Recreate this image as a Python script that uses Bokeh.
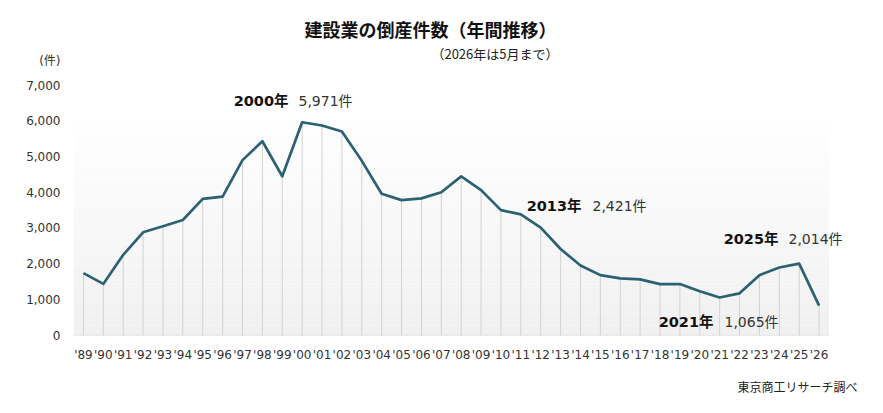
from bokeh.plotting import figure
from bokeh.models import Label, FixedTicker, NumeralTickFormatter, Range1d, ColumnDataSource, Title
from bokeh.embed import file_html
from bokeh.resources import INLINE

# ---- data ----
years = list(range(1989, 2027))
counts = [1745, 1445, 2260, 2890, 3060, 3235, 3825, 3890, 4910, 5440, 4460,
          5971, 5880, 5710, 4890, 3970, 3790, 3840, 4010, 4455, 4070, 3510,
          3390, 3020, 2421, 1960, 1690, 1600, 1570, 1440, 1440, 1240, 1065,
          1180, 1690, 1905, 2014, 835]
tick_labels = ["'" + str(y)[2:] for y in years]
y_ticks = [0, 1000, 2000, 3000, 4000, 5000, 6000, 7000]
unit_label = "(件)"

highlights = [
    ("2000年", "5,971件"),
    ("2013年", "2,421件"),
    ("2021年", "1,065件"),
    ("2025年", "2,014件"),
]

FONT = "Noto Sans CJK JP"
NUMFONT = "'DejaVu Sans', 'Noto Sans CJK JP'"
LINE = "#2c6174"

X0, X1 = 1988.5, 2026.5          # plotted span of the chart area
XR = 2029.14                      # frame extends to page edge for labels
YT = 9380                         # frame extends to page top for titles
UNIT_POS = 7700                   # height of the unit caption

p = figure(width=881, height=411, frame_width=808, frame_height=335,
           min_border_left=73, min_border_right=0, min_border_top=0, min_border_bottom=76,
           output_backend="svg", toolbar_location=None,
           x_range=Range1d(X0, XR), y_range=Range1d(0, YT))
p.outline_line_color = None
p.xgrid.visible = False
p.ygrid.visible = False
p.background_fill_color = "white"

# background gradient (styling only): light grey at bottom to white near top
nb = 60
top_val = 6200
bands_b = [top_val * i / nb for i in range(nb)]
bands_t = [top_val * (i + 1) / nb for i in range(nb)]
cols = []
for i in range(nb):
    f = i / (nb - 1)
    c = int(round(240 + 15 * f))
    cols.append("#%02x%02x%02x" % (c, c, c))
p.quad(left=X0, right=X1, bottom=bands_b, top=bands_t, fill_color=cols, line_color=None)
p.segment(x0=[X0], y0=[0], x1=[X1], y1=[0], line_color="#d9d9d9", line_width=1)

src = ColumnDataSource(dict(x=years, y=counts, z=[0] * len(years)))
p.segment(x0="x", y0="z", x1="x", y1="y", source=src, line_color="#d2d2d2", line_width=1)
p.line(x="x", y="y", source=src, line_color=LINE, line_width=2.7, line_join="round")

# axes
p.xaxis.ticker = FixedTicker(ticks=years)
p.xaxis.major_label_overrides = {y: lab for y, lab in zip(years, tick_labels)}
p.xaxis.major_tick_line_color = None
p.xaxis.major_tick_out = 0
p.xaxis.major_tick_in = 0
p.xaxis.minor_tick_line_color = None
p.xaxis.axis_line_color = None
p.xaxis.major_label_standoff = 12
p.xaxis.major_label_text_font = NUMFONT
p.xaxis.major_label_text_font_size = "12px"
p.xaxis.major_label_text_color = "#333333"

p.yaxis.ticker = FixedTicker(ticks=y_ticks + [UNIT_POS])
p.yaxis.formatter = NumeralTickFormatter(format="0,0")
p.yaxis.major_label_overrides = {UNIT_POS: unit_label}
p.yaxis.major_tick_line_color = None
p.yaxis.major_tick_out = 0
p.yaxis.major_tick_in = 0
p.yaxis.minor_tick_line_color = None
p.yaxis.axis_line_color = None
p.yaxis.major_label_standoff = 13
p.yaxis.major_label_text_font = NUMFONT
p.yaxis.major_label_text_font_size = "12px"
p.yaxis.major_label_text_color = "#333333"

# source caption under the x axis
p.add_layout(Title(text="東京商工リサーチ調べ", align="right", offset=24, standoff=22,
                   text_font=FONT, text_font_size="12px", text_font_style="normal",
                   text_color="#222222"), "below")

# screen coords relative to frame: x = X - 73, y = 335 - Y (reference pixels)
def lab(text, X, Y, size, align="left", bold=False, color="#222222", font=FONT):
    p.add_layout(Label(x=X - 73, y=335 - Y, x_units="screen", y_units="screen", text=text,
                       text_font=font, text_font_size=size, text_align=align,
                       text_baseline="middle", text_color=color,
                       text_font_style="bold" if bold else "normal"))

lab("建設業の倒産件数（年間推移）", 430, 28, "18px", "center", True, "#111111")
lab("（2026年は5月まで）", 558, 53, "13px", "right", False, "#222222")

pos = [(288, 298, 100), (581, 592, 205), (713, 724, 321), (778, 788, 238)]
for (yl, vl), (xr, xl, yy) in zip(highlights, pos):
    lab(yl, xr, yy, "14.5px", "right", True, "#111111", NUMFONT)
    lab(vl, xl, yy, "14px", "left", False, "#333333", NUMFONT)

open("out.html", "w").write(file_html(p, INLINE))
